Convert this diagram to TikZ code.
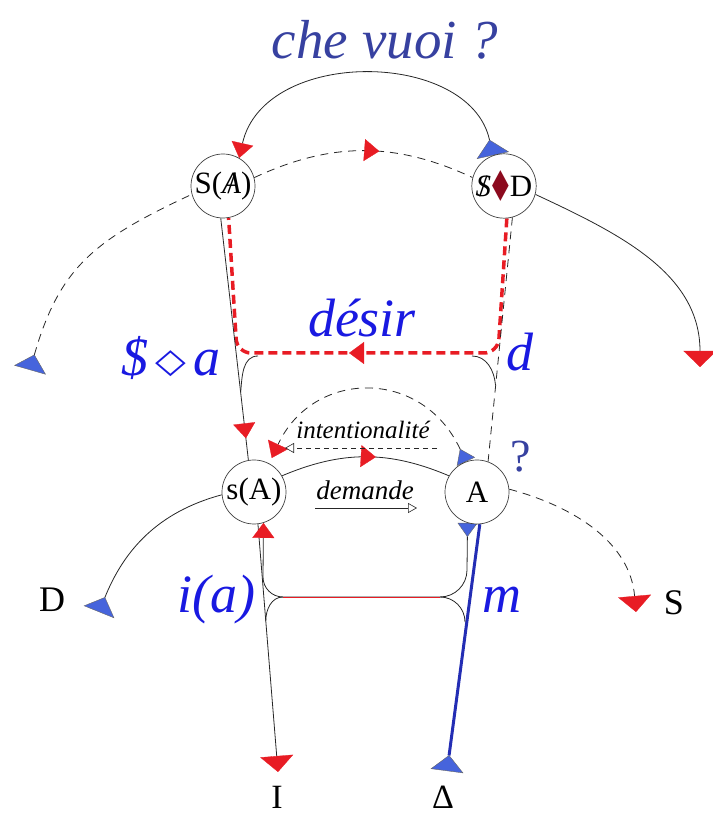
\documentclass[tikz,border=0pt]{standalone}
\usepackage{fontspec}
\usepackage{graphicx}
\setmainfont{Liberation Serif}
\newfontfamily\dejavu{DejaVu Sans}
\usetikzlibrary{arrows.meta,decorations.markings,backgrounds}

\definecolor{tipred}{RGB}{232,28,36}
\definecolor{tipblue}{RGB}{70,100,220}
\definecolor{inkblue}{RGB}{25,25,225}
\definecolor{duskblue}{RGB}{55,65,160}
\definecolor{wine}{RGB}{140,10,30}
\definecolor{lineblue}{RGB}{35,45,180}

\newcommand{\barredA}{\ooalign{\textit{A}\cr\hidewidth/\hidewidth\cr}}
\newcommand{\barredS}{\ooalign{\textit{S}\cr\hidewidth/\hidewidth\cr}}

\begin{document}
\begin{tikzpicture}[x=1pt, y=1pt,
    ring/.style={circle, draw=black!75, fill=white, line width=0.7pt, minimum size=64pt, inner sep=0pt, font=\fontsize{31}{32}\selectfont},
    wire/.style={draw=black!85, line width=0.8pt},
    dashwire/.style={wire, dash pattern=on 8pt off 6pt},
    desirline/.style={draw=tipred, line width=3.5pt, dash pattern=on 9pt off 5pt, rounded corners=14pt},
    bluelbl/.style={text=inkblue, font=\fontsize{54}{56}\selectfont\itshape},
    smalllbl/.style={font=\fontsize{25}{26}\selectfont\itshape},
    endlbl/.style={font=\fontsize{36}{38}\selectfont},
    midmark/.style={postaction={decorate}, decoration={markings, mark=at position #1 with {\arrow{redMid}}}},
    redHead/.tip={Triangle[width=33pt, length=16pt, color=tipred, fill=tipred, line width=0.3pt]},
    redMid/.tip={Triangle[width=22pt, length=15pt, color=tipred, fill=tipred, line width=0.3pt]},
    blueTail/.tip={Triangle[reversed, width=33pt, length=16pt, color=black!60, fill=tipblue, line width=0.4pt]},
    blueSmall/.tip={Triangle[reversed, width=20pt, length=14pt, color=black!60, fill=tipblue, line width=0.4pt]},
    openTip/.tip={Triangle[open, width=10pt, length=9pt, line width=0.6pt]}
]
\useasboundingbox (0,0) rectangle (712,819);

%  -- Nodes of the graph  --
\node[ring] (SAb) at (223,633) {S(\barredA)};
\node[ring] (SD)  at (504,633) {\barredS\kern1pt{\dejavu\color{wine}\scalebox{0.7}[1.3]{◆}}\kern1pt D};
\node[ring] (sA)  at (254,327) {s(A)};
\node[ring] (A)   at (477,327) {A};

%  -- Free ends and corners  --
\coordinate (Ltail) at (30,449);
\coordinate (Rhead) at (700,452);
\coordinate (Dtail) at (99,207);
\coordinate (Shead) at (636,207);
\coordinate (Ihead) at (278,47);
\coordinate (Deltatail) at (447,48);
\coordinate (desirR) at (498,466);
\coordinate (desirL) at (237,466);
\coordinate (bridgeL) at (240.7,427);
\coordinate (bridgeLtop) at (258,463);
\coordinate (bridgeRtop) at (472,463);
\coordinate (bridgeR) at (495.5,434);
\coordinate (loopR) at (467,249);
\coordinate (loopRb) at (440,222);
\coordinate (loopLb) at (283,222);
\coordinate (loopL) at (263,242);
\coordinate (flareL) at (265.8,198);
\coordinate (flareR) at (465,197);
\coordinate (intR) at (437,371);
\coordinate (intL) at (285,371);
\coordinate (demL) at (315,311);
\coordinate (demR) at (417,311);

%  -- Labels  --
\node[text=duskblue, font=\fontsize{55}{57}\selectfont\itshape] (chevuoi) at (385,779) {che vuoi ?};
\node[bluelbl] (desirlbl) at (362,501) {désir};
\node[bluelbl] (losange) at (171,461) {\$\hspace{7pt}\raisebox{3pt}{\dejavu\upshape\scalebox{1}[0.85]{\fontsize{40}{40}\selectfont ◇}}\hspace{7pt}a};
\node[bluelbl] (dlbl) at (520,467) {d};
\node[bluelbl] (ialbl) at (216,219) {i(a)};
\node[bluelbl] (mlbl) at (502,219) {m};
\node[text=duskblue, font=\fontsize{46}{48}\selectfont] (qlbl) at (521,362) {?};
\node[smalllbl] (intlbl) at (363,389) {intentionalité};
\node[smalllbl, font=\fontsize{27}{28}\selectfont\itshape] (demlbl) at (365,329) {demande};
\node[endlbl] (Dlbl) at (52,219) {D};
\node[endlbl] (Slbl) at (674,216) {S};
\node[endlbl, font=\fontsize{34}{36}\selectfont] (Ilbl) at (277,22) {I};
\node[endlbl, font=\fontsize{34}{36}\selectfont] (Deltalbl) at (443,22) {Δ};

\draw[dashwire, dash pattern=on 5pt off 4pt, -openTip] (intR) -- (intL);
\draw[wire, -openTip] (demL) -- (demR);

\begin{scope}[on background layer]
% upper storey
\draw[wire, blueTail-redMid] (SD.110) .. controls +(-23,106) and +(25,111) .. (SAb.60);
\draw[dashwire, midmark=0.57] (SAb.15) to[bend left=25] (SD.165);
\draw[dashwire, blueTail-] (Ltail) to[out=74,in=205,looseness=1.15] (SAb.195);
\draw[wire, -redHead] (SD.345) to[out=-25,in=90] (Rhead);
\draw[desirline, midmark=0.535] (SD.275) -- (desirR) -- (desirL) -- (SAb.280);
\draw[dashwire] (SD.285) -- (A.70);
\draw[wire, midmark=0.91] (SAb.266) -- (sA.100);
\draw[wire] (bridgeL) to[out=85,in=180] (bridgeLtop);
\draw[wire] (bridgeRtop) to[out=0,in=95] (bridgeR);

% lower storey
\draw[dashwire, blueSmall-redMid, shorten >=6pt] (A.110) to[out=115,in=65,looseness=1.35] (sA.62);
\draw[wire, midmark=0.56] (sA.30) to[bend left=23] (A.150);
\draw[wire, blueTail-] (Dtail) to[out=68,in=195] (sA.185);
\draw[dashwire, -redHead] (A.5) to[out=-15,in=95] (Shead);
\draw[wire, -redHead] (sA.277) -- (Ihead);
\draw[draw=lineblue, line width=3pt, blueTail-] (Deltatail) -- (A.275);
\draw[wire, blueSmall-redMid] (A.253) -- (loopR) to[out=-90,in=0] (loopRb) -- (loopLb) to[out=180,in=-90] (loopL) -- (sA.287);
\draw[draw=tipred, line width=0.9pt] (loopRb) -- (loopLb);
\draw[wire] (loopLb) to[out=180,in=90] (flareL);
\draw[wire] (loopRb) to[out=0,in=90] (flareR);
\end{scope}
\end{tikzpicture}
\end{document}
